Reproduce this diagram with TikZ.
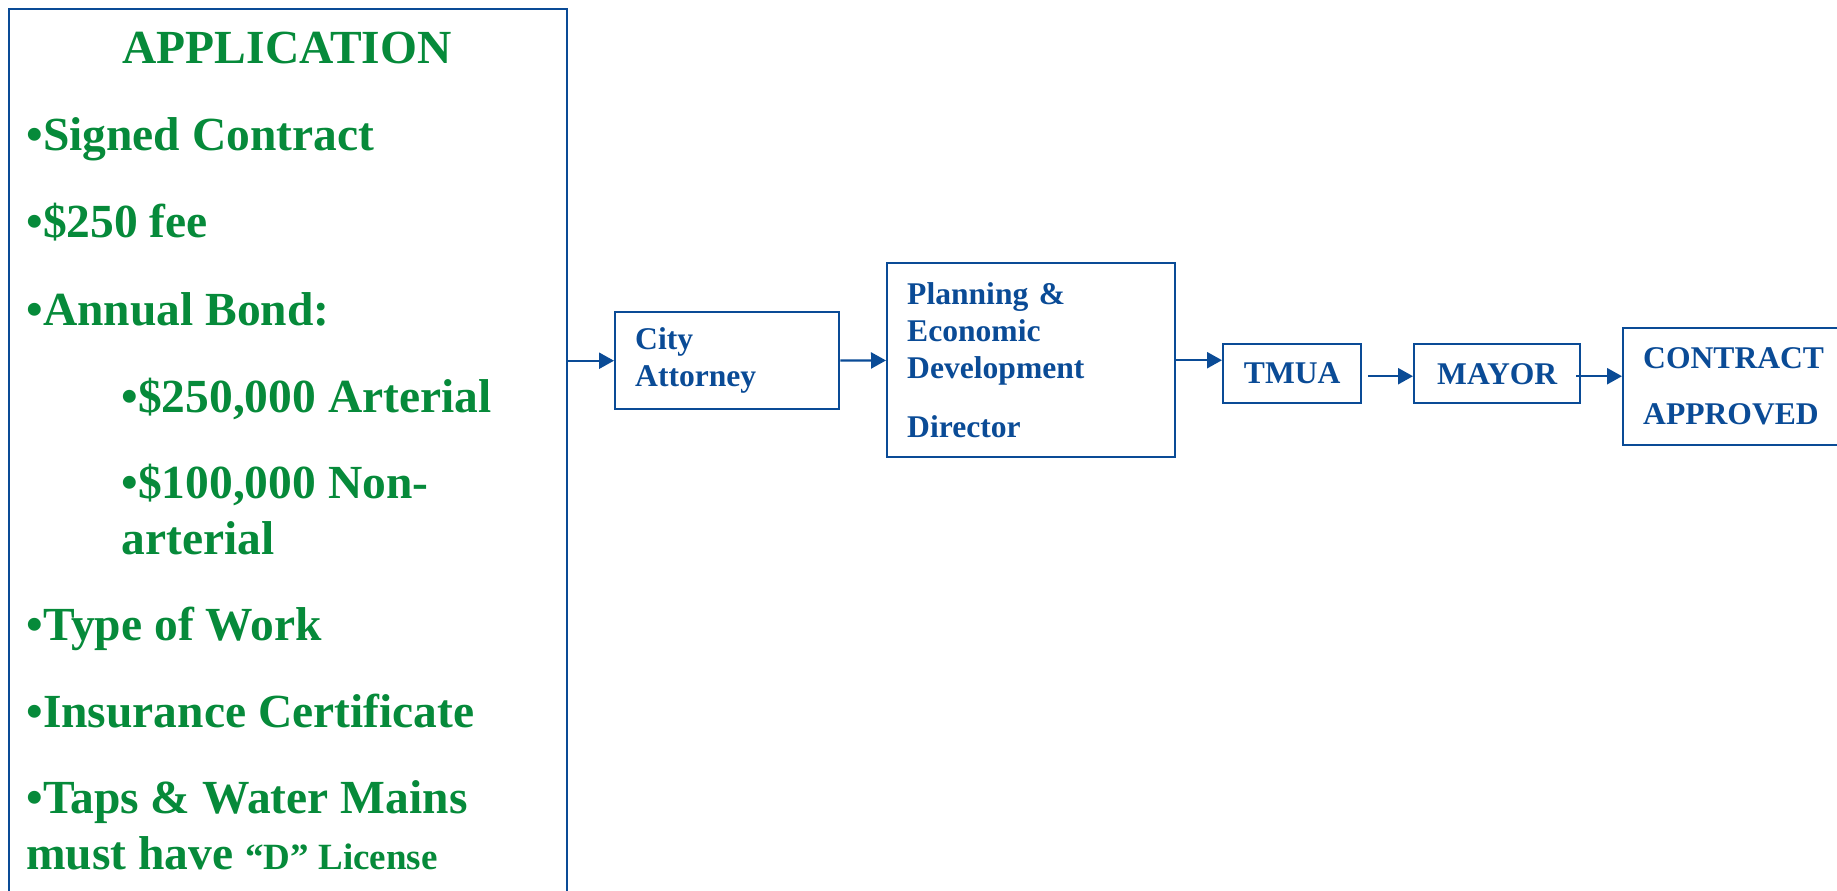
\documentclass[tikz,border=0pt]{standalone}
\usepackage{fontspec}
\setmainfont{Liberation Serif}
\usetikzlibrary{arrows.meta,positioning}
\definecolor{appgreen}{RGB}{6,138,58}
\definecolor{flowblue}{RGB}{10,75,150}
\tikzset{
  stepbox/.style={draw=flowblue,line width=1.2pt,text=flowblue,inner sep=0pt,anchor=north west,
    font=\bfseries\fontsize{15.8}{18.5}\selectfont},
  item/.style={anchor=base west,text=appgreen,inner sep=0pt,
    font=\bfseries\fontsize{23.75}{28}\selectfont},
  arr/.style={draw=flowblue,line width=1.2pt,-{Triangle[length=7.5pt,width=8pt]}}
}

\begin{document}
\begin{tikzpicture}[x=0.5pt,y=-0.5pt]
  \clip (0,0) rectangle (1837,890);
  % application list, box runs off the bottom
  \node[draw=flowblue,line width=1.2pt,anchor=north west,inner sep=0pt,
        minimum width=279pt,minimum height=460pt] (app) at (8,8) {};
  \node[item,anchor=base] (title) at (287,63) {APPLICATION};
  \node[item] (i1) at (26,150) {•Signed Contract};
  \node[item] (i2) at (26,237) {•\$250 fee};
  \node[item] (i3) at (26,325) {•Annual Bond:};
  \node[item] (i4) at (121,412) {•\$250,000 Arterial};
  \node[item] (i5) at (121,498) {•\$100,000 Non-};
  \node[item] (i5b) at (121,554) {arterial};
  \node[item] (i6) at (26,640) {•Type of Work};
  \node[item] (i7) at (26,727) {•Insurance Certificate};
  \node[item] (i8) at (26,813) {•Taps \& Water Mains};
  \node[item] (i8b) at (26,869) {must have {\fontsize{18.5}{20}\selectfont “D” License}};

  % approval steps
  \node[stepbox,minimum width=112pt,minimum height=48.5pt,text width=92pt,align=left] (city) at (614,311) {City\\Attorney};
  \node[stepbox,minimum width=144pt,minimum height=97pt,text width=124pt,align=left] (plan) at (886,262)
    {Planning \&\\Economic\\Development\\[11pt]Director};
  \node[stepbox,minimum width=69pt,minimum height=29.5pt] (tmua) at (1222,343) {TMUA};
  \node[stepbox,minimum width=83pt,minimum height=29.5pt] (mayor) at (1413,343) {MAYOR};
  \node[stepbox,minimum width=112pt,minimum height=58.5pt,text width=92pt,align=left] (done) at (1622,327)
    {CONTRACT\\[9.5pt]APPROVED};

  \draw[arr] (city.west -| app.east) -- (city.west);
  \draw[arr] (city) -- (plan);
  \draw[arr] (plan.east) -- (plan.east -| tmua.west);
  \draw[arr,shorten <=3pt] ([yshift=-1.25pt]tmua.east) -- ([yshift=-1.25pt]mayor.west);
  \draw[arr,shorten <=-2.5pt] ([yshift=-1.25pt]mayor.east) -- ([yshift=-1.25pt]mayor.east -| done.west);
\end{tikzpicture}
\end{document}
